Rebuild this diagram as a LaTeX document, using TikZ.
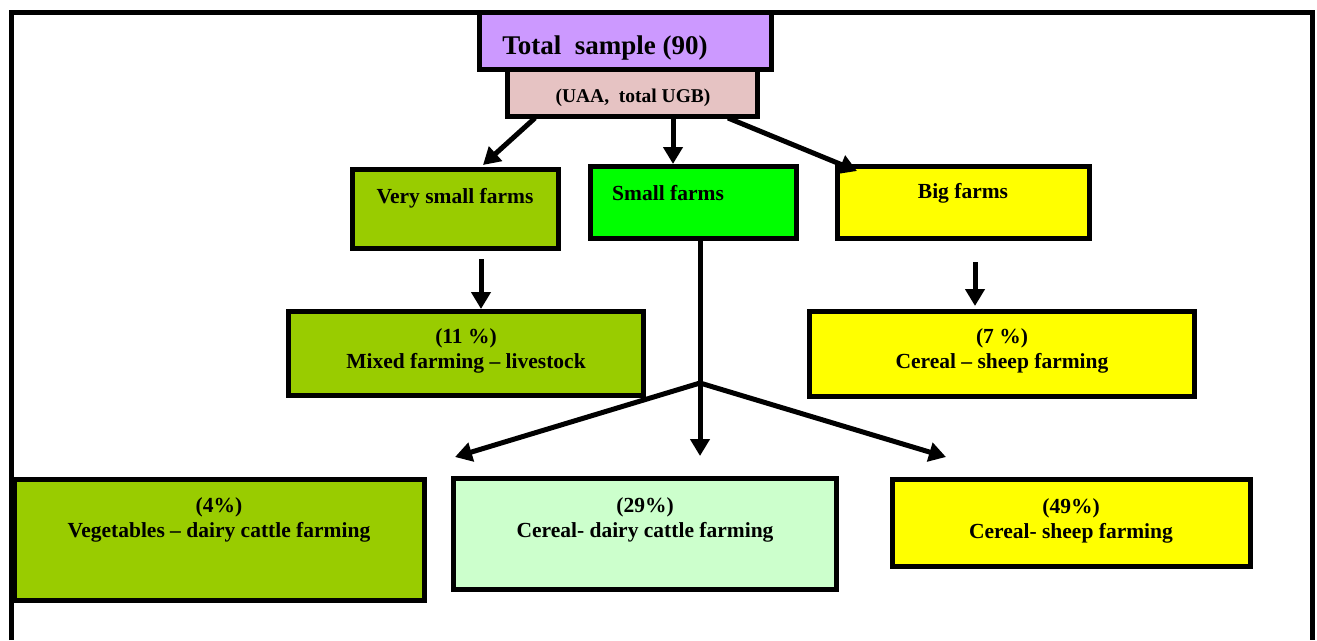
\documentclass[tikz,border=0pt]{standalone}
\usepackage{fontspec}
\setmainfont{Liberation Serif}
\usetikzlibrary{arrows.meta}
\definecolor{cpurple}{HTML}{CC99FF}
\definecolor{cpink}{HTML}{E6C3C3}
\definecolor{colive}{HTML}{99CC00}
\definecolor{cgreen}{HTML}{00FF00}
\definecolor{cyellow}{HTML}{FFFF00}
\definecolor{clight}{HTML}{CCFFCC}
\tikzset{
  box/.style={draw=black, line width=5.5pt, inner sep=0pt, rectangle},
  lbl/.style={font=\bfseries\fontsize{21.5}{25}\selectfont, align=center, inner sep=0pt},
  arr/.style={line width=5pt, -{Triangle[length=17pt,width=19pt]}},
  ln/.style={line width=5pt},
}
\begin{document}
\begin{tikzpicture}[x=1pt,y=-1pt]
\useasboundingbox (0,0) rectangle (1317,640);
% frame
\draw[line width=5pt] (11,640) -- (11,12) -- (1312,12) -- (1312,640);
% boxes
\node[box, fill=cpink, minimum width=250pt, minimum height=47pt] (uaa) at (632.5,93) {};
\node[box, fill=cpurple, minimum width=292pt, minimum height=57pt] (total) at (625.5,41) {};
\node[box, fill=colive, minimum width=206pt, minimum height=79pt] (vsmall) at (455.5,209) {};
\node[box, fill=cgreen, minimum width=206pt, minimum height=72pt] (small) at (693.5,202.5) {};
\node[box, fill=cyellow, minimum width=252pt, minimum height=72pt] (big) at (963.5,202.5) {};
\node[box, fill=colive, minimum width=355pt, minimum height=84pt] (mixed) at (466,353.5) {};
\node[box, fill=cyellow, minimum width=385pt, minimum height=85pt] (csheep7) at (1002,354) {};
\node[box, fill=colive, minimum width=410pt, minimum height=121pt] (veg) at (219.5,540) {};
\node[box, fill=clight, minimum width=383pt, minimum height=111pt] (cdairy) at (645,534) {};
\node[box, fill=cyellow, minimum width=358pt, minimum height=87pt] (csheep49) at (1071.5,523) {};
% texts
\node[lbl, font=\bfseries\fontsize{27}{30}\selectfont] (ttotal) at (605,48) {Total\ \ sample (90)};
\node[lbl, font=\bfseries\fontsize{19.5}{22}\selectfont] (tuaa) at (633,98) {(UAA,\ \ total UGB)};
\node[lbl] (tvsmall) at (455,198.5) {Very small farms};
\node[lbl, anchor=west] (tsmall) at (612,193.5) {Small farms};
\node[lbl] (tbig) at (963,193.5) {Big farms};
\node[lbl] (tmixed) at (466,351) {(11 \%)\\Mixed farming -- livestock};
\node[lbl] (tcs7) at (1002,351) {(7 \%)\\Cereal -- sheep farming};
\node[lbl] (tveg) at (219,520) {(4\%)\\Vegetables -- dairy cattle farming};
\node[lbl] (tcd) at (645,520) {(29\%)\\Cereal- dairy cattle farming};
\node[lbl] (tcs49) at (1071,521) {(49\%)\\Cereal- sheep farming};
% connector points
\coordinate (s1) at (535,118);
\coordinate (e1) at (483,165);
\coordinate (s2) at (673,118);
\coordinate (e2) at (673,164);
\coordinate (s3) at (728,118);
\coordinate (e3) at (857,171);
\coordinate (s4) at (481,259);
\coordinate (e4) at (481,309);
\coordinate (s5) at (975,262);
\coordinate (e5) at (975,306);
\coordinate (s6) at (700,238);
\coordinate (j) at (700,383);
\coordinate (e6) at (455,457);
\coordinate (e7) at (700,456);
\coordinate (e8) at (946,457);
\draw[arr] (s1) -- (e1);
\draw[arr] (s2) -- (e2);
\draw[arr] (s3) -- (e3);
\draw[arr] (s4) -- (e4);
\draw[arr] (s5) -- (e5);
\draw[ln] (s6) -- (j);
\draw[arr] (j) -- (e6);
\draw[arr] (j) -- (e7);
\draw[arr] (j) -- (e8);
\end{tikzpicture}
\end{document}
